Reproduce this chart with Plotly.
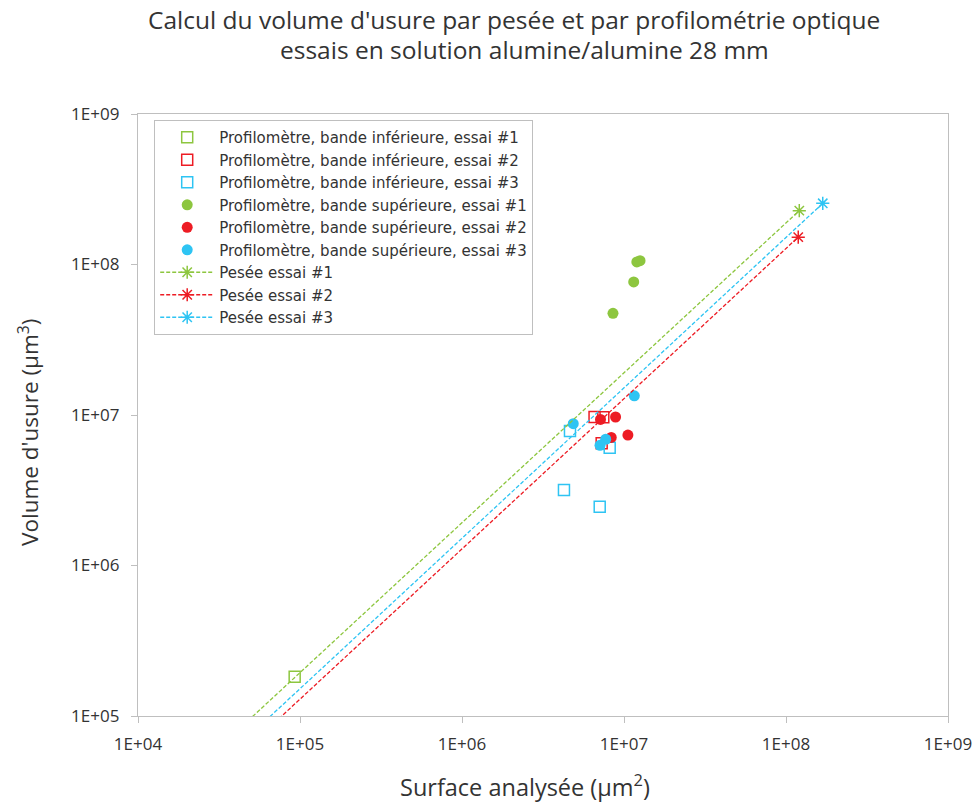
import plotly.graph_objects as go

# ---------------- data ----------------
# Profilomètre, bande inférieure (open squares)
inf1_x = [9.27e4]
inf1_y = [1.82e5]
inf2_x = [6.58e6, 7.45e6, 7.28e6]
inf2_y = [9.70e6, 9.66e6, 6.49e6]
inf3_x = [4.64e6, 8.16e6, 4.26e6, 7.08e6]
inf3_y = [7.83e6, 6.06e6, 3.18e6, 2.46e6]

# Profilomètre, bande supérieure (filled circles)
sup1_x = [1.256e7, 1.20e7, 1.148e7, 8.55e6]
sup1_y = [1.06e8, 1.04e8, 7.66e7, 4.74e7]
sup2_x = [7.16e6, 8.87e6, 8.34e6, 1.057e7]
sup2_y = [9.34e6, 9.70e6, 7.09e6, 7.36e6]
sup3_x = [4.86e6, 7.71e6, 7.11e6, 1.158e7]
sup3_y = [8.75e6, 6.90e6, 6.29e6, 1.34e7]

# Pesée (dashed lines with star markers)
pes1_x = [1.0e4, 1.208e8]
pes1_y = [1.96e4, 2.28e8]
pes2_x = [1.0e4, 1.19e8]
pes2_y = [1.30e4, 1.52e8]
pes3_x = [1.0e4, 1.686e8]
pes3_y = [1.52e4, 2.55e8]

tick_vals = [1e4, 1e5, 1e6, 1e7, 1e8, 1e9]
x_tick_text = ["1E+04", "1E+05", "1E+06", "1E+07", "1E+08", "1E+09"]
y_tick_vals = [1e5, 1e6, 1e7, 1e8, 1e9]
y_tick_text = ["1E+05", "1E+06", "1E+07", "1E+08", "1E+09"]

names = [
    "Profilomètre, bande inférieure, essai #1",
    "Profilomètre, bande inférieure, essai #2",
    "Profilomètre, bande inférieure, essai #3",
    "Profilomètre, bande supérieure, essai #1",
    "Profilomètre, bande supérieure, essai #2",
    "Profilomètre, bande supérieure, essai #3",
    "Pesée essai #1",
    "Pesée essai #2",
    "Pesée essai #3",
]

title_lines = [
    "Calcul du volume d'usure par pesée et par profilométrie optique",
    "essais en solution alumine/alumine 28 mm",
]

GREEN = "#8dc63f"
RED = "#ed1c24"
BLUE = "#2ec4f3"
FONT = "Open Sans"
LFONT = "DejaVu Sans"
TXT = "#333333"

fig = go.Figure()

for xs, ys, c, n in [(inf1_x, inf1_y, GREEN, names[0]),
                     (inf2_x, inf2_y, RED, names[1]),
                     (inf3_x, inf3_y, BLUE, names[2])]:
    fig.add_trace(go.Scatter(
        x=xs, y=ys, mode="markers", name=n,
        marker=dict(symbol="square-open", size=11, color=c, line=dict(width=1.5, color=c)),
    ))

for xs, ys, c, n in [(sup1_x, sup1_y, GREEN, names[3]),
                     (sup2_x, sup2_y, RED, names[4]),
                     (sup3_x, sup3_y, BLUE, names[5])]:
    fig.add_trace(go.Scatter(
        x=xs, y=ys, mode="markers", name=n,
        marker=dict(symbol="circle", size=11, color=c, line=dict(width=0)),
    ))

for xs, ys, c, n in [(pes1_x, pes1_y, GREEN, names[6]),
                     (pes2_x, pes2_y, RED, names[7]),
                     (pes3_x, pes3_y, BLUE, names[8])]:
    fig.add_trace(go.Scatter(
        x=xs, y=ys, mode="lines+markers", name=n,
        line=dict(color=c, width=1.3, dash="4px,2px"),
        marker=dict(symbol="asterisk-open", size=11, color=c, line=dict(width=1.5, color=c)),
    ))

axis_common = dict(
    type="log",
    showgrid=False,
    zeroline=False,
    showline=True,
    linecolor="#bfbfbf",
    linewidth=1.3,
    mirror=True,
    ticks="outside",
    ticklen=6,
    tickcolor="#bfbfbf",
    automargin=False,
    tickfont=dict(family=FONT, size=17, color=TXT),
)

fig.update_xaxes(range=[4, 9], tickvals=tick_vals, ticktext=x_tick_text,
                 ticklabelstandoff=6, **axis_common)
fig.update_yaxes(range=[5, 9], tickvals=y_tick_vals, ticktext=y_tick_text,
                 ticklabelstandoff=8, **axis_common)

fig.update_layout(
    width=979, height=803,
    margin=dict(l=138, r=31, t=114, b=87),
    paper_bgcolor="white", plot_bgcolor="white",
    font=dict(family=FONT, color=TXT),
    showlegend=True,
    legend=dict(
        x=0.02, y=0.99, xanchor="left", yanchor="top",
        bgcolor="white", bordercolor="#bfbfbf", borderwidth=1,
        font=dict(family=LFONT, size=15, color=TXT),
        tracegroupgap=0, itemwidth=54,
    ),
    annotations=[
        dict(text=title_lines[0],
             xref="paper", yref="paper", x=(514 - 138) / 810, y=(716 - 20) / 602,
             xanchor="center", yanchor="middle", showarrow=False,
             font=dict(family=FONT, size=24.5, color=TXT)),
        dict(text=title_lines[1],
             xref="paper", yref="paper", x=(524 - 138) / 810, y=(716 - 50) / 602,
             xanchor="center", yanchor="middle", showarrow=False,
             font=dict(family=FONT, size=24.5, color=TXT)),
        dict(text="Surface analysée (µm<sup>2</sup>)",
             xref="paper", yref="paper", x=(525 - 138) / 810, y=(716 - 785) / 602,
             xanchor="center", yanchor="middle", showarrow=False,
             font=dict(family=FONT, size=23.5, color=TXT)),
        dict(text="Volume d'usure (µm<sup>3</sup>)",
             xref="paper", yref="paper", x=(28 - 138) / 810, y=(716 - 433) / 602,
             xanchor="center", yanchor="middle", showarrow=False, textangle=-90,
             font=dict(family=FONT, size=22.5, color=TXT)),
    ],
)

fig.write_html("out.html", config={"displayModeBar": False},
               post_script="document.body.style.margin='0';")
